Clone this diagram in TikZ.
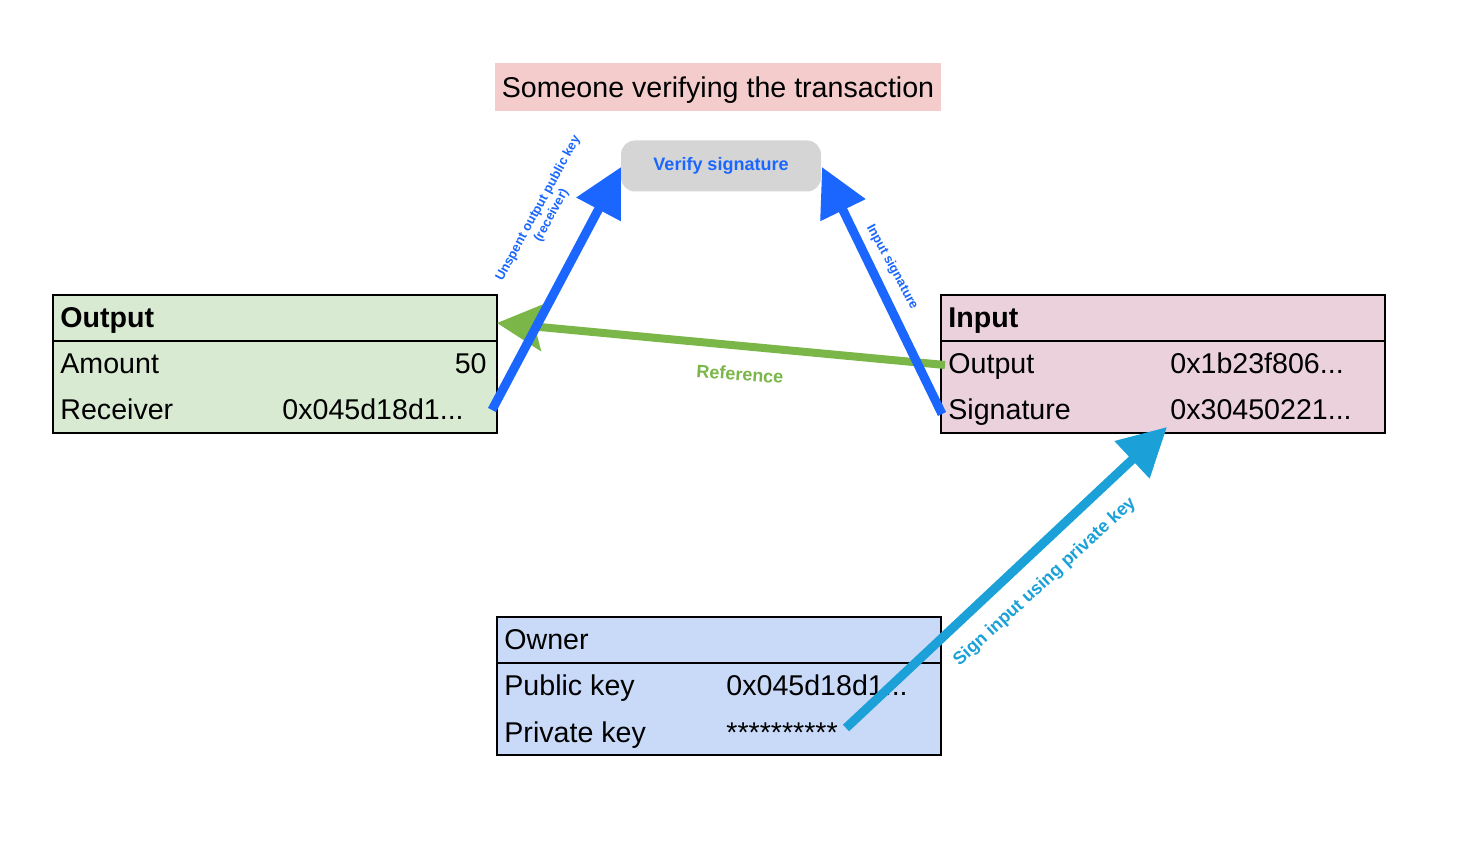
\documentclass[tikz,border=0pt]{standalone}
\usepackage{fontspec}
\setmainfont{Liberation Sans}
\usetikzlibrary{arrows.meta}
\definecolor{outfill}{HTML}{D9EAD3}
\definecolor{infill}{HTML}{EAD1DC}
\definecolor{ownfill}{HTML}{C9DAF8}
\definecolor{titlefill}{HTML}{F4CCCC}
\definecolor{vergray}{HTML}{D5D5D5}
\definecolor{vblue}{HTML}{1A66FF}
\definecolor{refgreen}{HTML}{7AB648}
\definecolor{signcyan}{HTML}{1BA1D8}
\tikzset{
  hdrbox/.style={draw=black, line width=1pt, minimum width=222pt, minimum height=23pt, anchor=north west, inner sep=0pt},
  bodybox/.style={draw=black, line width=1pt, minimum width=222pt, minimum height=46pt, anchor=north west, inner sep=0pt},
  celltext/.style={font=\fontsize{14.3pt}{16pt}\selectfont, inner sep=0pt, anchor=base west},
  cellright/.style={font=\fontsize{14.3pt}{16pt}\selectfont, inner sep=0pt, anchor=base east},
  hdrtext/.style={font=\fontsize{14.3pt}{16pt}\selectfont\bfseries, inner sep=0pt, anchor=base west},
  bluearrow/.style={draw=vblue, line width=4.5pt, -{Triangle[length=24pt, width=24pt]}},
  cyanarrow/.style={draw=signcyan, line width=4.5pt, -{Triangle[length=24pt, width=24.5pt]}},
  greenarrow/.style={draw=refgreen, line width=4pt, -{Stealth[length=23pt, width=23.5pt, inset=4pt]}},
  lbl/.style={font=\bfseries, inner sep=0pt, align=center}
}
\begin{document}
\begin{tikzpicture}[x=0.5pt, y=-0.5pt]
\useasboundingbox (0,0) rectangle (1474,844);

% title
\node[fill=titlefill, minimum width=223pt, minimum height=24pt, inner sep=0pt] (title) at (718,87) {};
\node[inner sep=0pt, font=\fontsize{14.3pt}{16pt}\selectfont, anchor=base] (titleT) at (718,98) {Someone verifying the transaction};

% verify signature
\node[fill=vergray, rounded corners=7pt, minimum width=100pt, minimum height=25.5pt, inner sep=0pt,
      text=vblue, font=\fontsize{9pt}{11pt}\selectfont\bfseries] (verify) at (721,166) {Verify signature};

% Output box
\node[hdrbox, fill=outfill] (outhdr) at (52,294) {};
\node[bodybox, fill=outfill] (outbody) at (52,340) {};
\node[hdrtext] (outT) at (60,328) {Output};
\node[celltext] (amountL) at (60,374) {Amount};
\node[cellright] (amountV) at (487,374) {50};
\node[celltext] (recvL) at (60,420) {Receiver};
\node[celltext] (recvV) at (282,420) {0x045d18d1...};

% Input box
\node[hdrbox, fill=infill] (inhdr) at (940,294) {};
\node[bodybox, fill=infill] (inbody) at (940,340) {};
\node[hdrtext] (inT) at (948,328) {Input};
\node[celltext] (inOutL) at (948,374) {Output};
\node[celltext] (inOutV) at (1170,374) {0x1b23f806...};
\node[celltext] (sigL) at (948,420) {Signature};
\node[celltext] (sigV) at (1170,420) {0x30450221...};

% Owner box
\node[hdrbox, fill=ownfill] (ownhdr) at (496,616) {};
\node[bodybox, fill=ownfill] (ownbody) at (496,662) {};
\node[celltext] (ownT) at (504,650) {Owner};
\node[celltext] (pubL) at (504,696) {Public key};
\node[celltext] (pubV) at (726,696) {0x045d18d1...};
\node[celltext] (privL) at (504,742) {Private key};
\node[celltext] (privV) at (726,742) {**********};

% connector ends
\coordinate (refStart) at (945,365);
\coordinate (refTip) at (497,323);
\coordinate (recvEnd) at (492,410);
\coordinate (sigStart) at (942,414);
\coordinate (privEnd) at (846,728);
\coordinate (sigTip) at (1167,427);
\coordinate (verL) at (621,167);
\coordinate (verR) at (822,167);

% arrows
\draw[greenarrow] (refStart) -- (refTip);
\draw[bluearrow] (recvEnd) -- (verL);
\draw[bluearrow] (sigStart) -- (verR);
\draw[cyanarrow] (privEnd) -- (sigTip);

% labels
\node[lbl, text=vblue, font=\fontsize{6.5pt}{7.5pt}\selectfont\bfseries, rotate=61.5] (lblUnspent) at (545,212) {Unspent output public key\\(receiver)};
\node[lbl, text=vblue, font=\fontsize{6.5pt}{7.5pt}\selectfont\bfseries, rotate=-61.5] (lblInSig) at (892,267) {Input signature};
\node[lbl, text=refgreen, font=\fontsize{9pt}{11pt}\selectfont\bfseries, rotate=-4] (lblRef) at (740,374) {Reference};
\node[lbl, text=signcyan, font=\fontsize{9pt}{11pt}\selectfont\bfseries, rotate=42.5] (lblSign) at (1045,582) {Sign input using private key};
\end{tikzpicture}
\end{document}
